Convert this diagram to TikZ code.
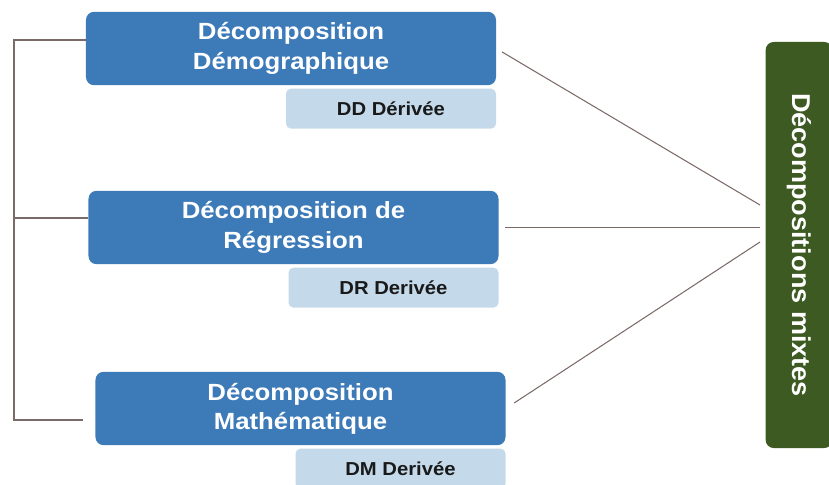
\documentclass[tikz,border=0pt]{standalone}
\usepackage{fontspec}
\usepackage{tikz}
\usetikzlibrary{positioning}
\newfontfamily\boxfont[FakeStretch=1.1]{Liberation Sans}
\newfontfamily\subfont[FakeStretch=1.08]{Liberation Sans}
\newfontfamily\sidefont[FakeStretch=1.05]{Liberation Sans}
\definecolor{decompblue}{HTML}{3D7AB8}
\definecolor{derivblue}{HTML}{C4DAEA}
\definecolor{mixgreen}{HTML}{3C5A22}
\definecolor{linkgray}{HTML}{7B6B68}

\begin{document}
\begin{tikzpicture}[
            x=0.03cm, y=-0.03cm,
            mainbox/.style={rectangle, rounded corners=0.24cm, fill=decompblue, text=white, minimum width=12.3cm, minimum height=2.2cm, align=center, inner sep=0pt, font={\boxfont\bfseries\fontsize{20}{25}\selectfont}},
            subbox/.style={rectangle, rounded corners=0.15cm, fill=derivblue, text=black!90, minimum width=6.3cm, minimum height=1.2cm, inner sep=0pt, font={\subfont\bfseries\fontsize{16}{19}\selectfont}},
            mixbox/.style={rectangle, rounded corners=0.24cm, fill=mixgreen, text=white, minimum width=12.18cm, minimum height=2.0cm, inner sep=0pt, font={\sidefont\bfseries\fontsize{22}{25}\selectfont}},
            link/.style={draw=linkgray, line width=0.9pt}
        ]
        \useasboundingbox (0,0) rectangle (829,485);

        % Decompositions
        \node[mainbox] (demo) at (291,48.5) {Décomposition\\Démographique};
        \node[mainbox] (regr) at (293.5,227.5) {Décomposition de\\Régression};
        \node[mainbox] (math) at (300.5,408.5) {Décomposition\\Mathématique};

        % Derived boxes
        \node[subbox, below=0.09cm of demo.south east, anchor=north east] (dd) {DD Dérivée};
        \node[subbox, below=0.09cm of regr.south east, anchor=north east] (dr) {DR Derivée};
        \node[subbox, below=0.09cm of math.south east, anchor=north east] (dm) {DM Derivée};

        % Mixed decompositions
        \node[mixbox, rotate=-90] (mix) at (799,245) {Décompositions mixtes};

        % Left bracket
        \coordinate (b1) at (14,40);
        \coordinate (b2) at (14,218);
        \coordinate (b3) at (14,420);
        \coordinate (e3) at (83,420);
        \draw[link] (demo.west |- b1) -- (b1) -- (b3) -- (e3);
        \draw[link] (b2) -- (regr.west |- b2);

        % Links to mixed
        \coordinate (m1) at (760,205);
        \coordinate (m2) at (760,227.5);
        \coordinate (m3) at (760,242);
        \draw[link, shorten <=0.2cm] (demo.east) -- (m1);
        \draw[link, shorten <=0.2cm] (regr.east) -- (m2);
        \draw[link, shorten <=0.3cm] (math.east) -- (m3);

        \end{tikzpicture}
\end{document}
